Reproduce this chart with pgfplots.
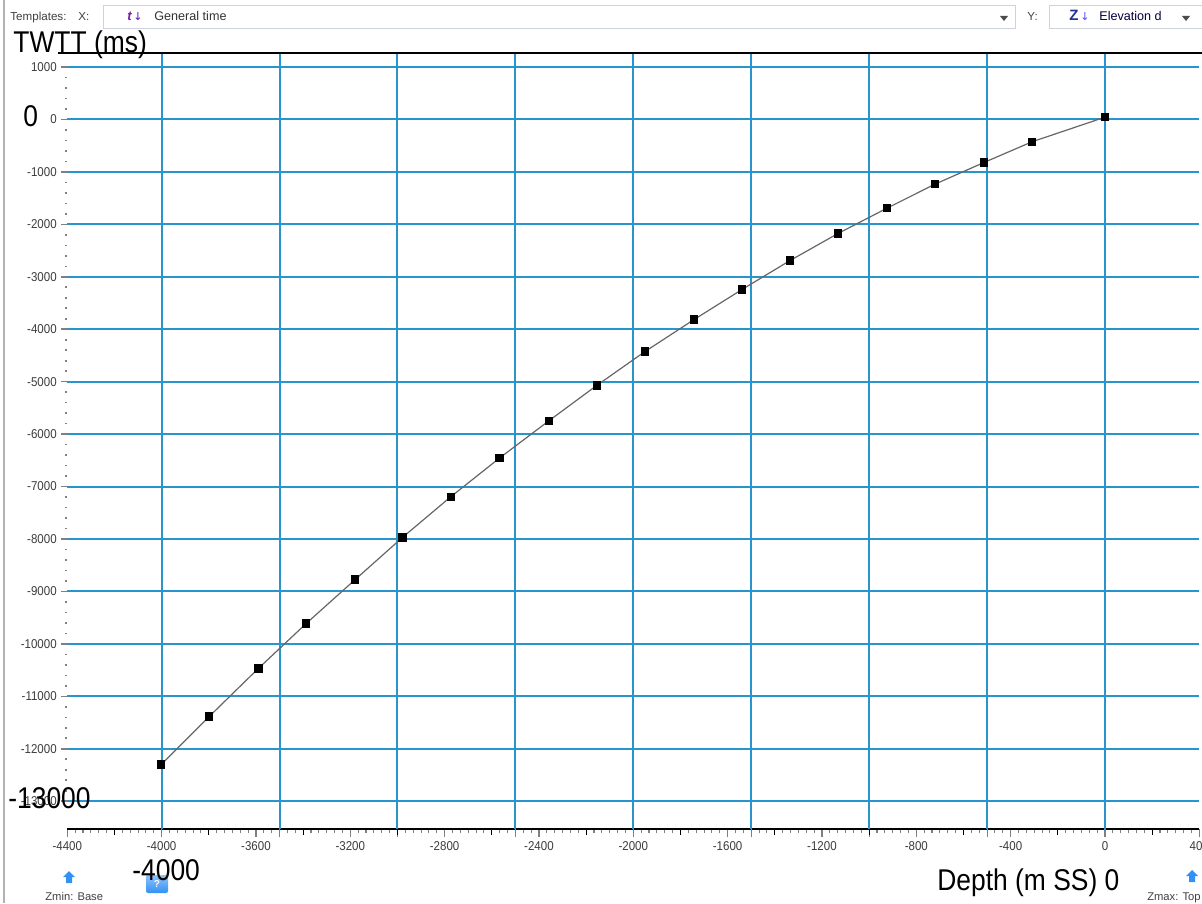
\documentclass[border=0pt]{standalone}
\usepackage{pgfplots}
\pgfplotsset{compat=1.18}
\usepackage{fontspec}
\setmainfont{Liberation Sans}
\newfontfamily\bigfont[FakeStretch=0.88]{Liberation Sans}
\newfontfamily\tickfamily[FakeStretch=0.9]{Liberation Sans}
\newfontfamily\symfont{DejaVu Sans}
\definecolor{gridblue}{RGB}{40,150,205}
\definecolor{ticktext}{RGB}{60,60,60}
\definecolor{iconblue}{RGB}{50,145,245}
\definecolor{boxborder}{RGB}{205,210,220}
\definecolor{tpurple}{RGB}{120,30,160}
\definecolor{zblue}{RGB}{30,50,150}
\newcommand{\tickfont}{\tickfamily\fontsize{6.4}{7}\selectfont}
\newcommand{\bigtext}{\bigfont\fontsize{15}{16}\selectfont}
\newcommand{\uifont}{\fontsize{5.8}{6.5}\selectfont}

\begin{document}
\begin{tikzpicture}
% screen canvas: 1 px = 0.5 pt, y downwards
\begin{scope}[x=0.5pt,y=-0.5pt]
  \fill[white] (0,0) rectangle (1202,903);
\end{scope}

\begin{axis}[
  at={(33.65pt,-414.5pt)}, anchor=south west,
  scale only axis, width=566pt, height=387.8pt,
  xmin=-4400, xmax=400, ymin=-13530, ymax=1260,
  scaled x ticks=false, scaled y ticks=false,
  axis x line*=bottom, axis y line*=left,
  x axis line style={draw=black, line width=0.8pt, -},
  y axis line style={draw=none},
  tick align=outside,
  xtick={-4400,-4000,...,400},
  xticklabels={-4400,-4000,-3600,-3200,-2800,-2400,-2000,-1600,-1200,-800,-400,0,400},
  minor x tick num=11,
  xtick style={line width=0.55pt, /pgfplots/major tick length=4pt, /pgfplots/minor tick length=2pt},
  ytick={1000,0,-1000,-2000,-3000,-4000,-5000,-6000,-7000,-8000,-9000,-10000,-11000,-12000,-13000},
  yticklabels={1000,0,-1000,-2000,-3000,-4000,-5000,-6000,-7000,-8000,-9000,-10000,-11000,-12000,-13000},
  minor y tick num=4,
  ytick style={line width=0.8pt, /pgfplots/major tick length=3.2pt, /pgfplots/minor tick length=0.9pt},
  ymajorgrids=true,
  extra x ticks={-4000,-3500,-3000,-2500,-2000,-1500,-1000,-500,0},
  extra x tick labels={},
  extra x tick style={grid=major, /pgfplots/major tick length=0pt},
  major grid style={draw=gridblue, line width=1pt},
  xticklabel style={font=\tickfont, text=ticktext, yshift=1.5pt},
  yticklabel style={font=\tickfont, text=ticktext, xshift=2.5pt},
  clip=false,
]
% medium ticks halfway between labelled ticks
\pgfplotsinvokeforeach{-4200,-3800,-3400,-3000,-2600,-2200,-1800,-1400,-1000,-600,-200,200}{
  \draw[black, line width=0.55pt] (axis cs:#1,-13530) -- ([yshift=-3pt]axis cs:#1,-13530);
}
% time-depth pairs
\addplot[black!60, line width=0.6pt, mark=square*, mark size=1.8pt,
         mark options={black, fill=black, solid}] coordinates {
  (0,44) (-309,-425) (-513,-820) (-721,-1234) (-924,-1691)
  (-1132,-2174) (-1335,-2689) (-1539,-3242) (-1742,-3814) (-1950,-4424)
  (-2155,-5072) (-2358,-5746) (-2568,-6459) (-2774,-7195) (-2979,-7971)
  (-3179,-8772) (-3387,-9611) (-3590,-10469) (-3798,-11384) (-4002,-12300)
};
\end{axis}

\begin{scope}[x=0.5pt,y=-0.5pt]
  % window border
  \draw[black!30, line width=1pt] (4,0) -- (4,903);
  % top frame line
  \draw[black, line width=1pt] (58,53) -- (1202,53);

  % template selector bar
  \node[anchor=base west, inner sep=0, font=\uifont, text=black!75] at (10,21) {Templates:};
  \node[anchor=base west, inner sep=0, font=\uifont, text=black!75] at (78,21) {X:};
  \draw[boxborder, fill=white, line width=0.5pt] (103,6) rectangle (1015,29);
  \node[anchor=base west, inner sep=0, font=\fontsize{6.5}{7}\selectfont\itshape\bfseries, text=tpurple] at (127,21) {t};
  \node[anchor=base west, inner sep=0, font=\symfont\fontsize{5.5}{6}\selectfont, text=tpurple!70!blue] at (133,21) {↓};
  \node[anchor=base west, inner sep=0, font=\fontsize{6.3}{7}\selectfont, text=black!80] at (154,21) {General time};
  \fill[black!70] (1000,16) -- (1008,16) -- (1004,21) -- cycle;
  \node[anchor=base west, inner sep=0, font=\uifont, text=black!75] at (1027,21) {Y:};
  \draw[boxborder, fill=white, line width=0.5pt] (1049,6) rectangle (1203,29);
  \node[anchor=base west, inner sep=0, font=\fontsize{7.5}{8}\selectfont\bfseries, text=zblue] at (1069,21) {Z};
  \node[anchor=base west, inner sep=0, font=\symfont\fontsize{5.5}{6}\selectfont, text=blue!70] at (1080,21) {↓};
  \node[anchor=base west, inner sep=0, font=\fontsize{6.3}{7}\selectfont, text=black!75!blue] at (1099,21) {Elevation d};
  \fill[black!70] (1182,16) -- (1190,16) -- (1186,21) -- cycle;

  % help icon below the axis
  \shade[top color=iconblue!55, bottom color=iconblue, rounded corners=1pt] (146,875) rectangle (168,893);
  \node[inner sep=0, font=\fontsize{5}{6}\selectfont\bfseries, text=white] at (157,884) {?};

  % large annotations
  \node[anchor=base west, inner sep=0, font=\bigtext] at (13,53) {TWTT (ms)};
  \node[anchor=base west, inner sep=0, font=\bigtext] at (23,127) {0};
  \node[anchor=base west, inner sep=0, font=\bigtext] at (8,808) {-13000};
  \node[anchor=base west, inner sep=0, font=\bigtext] at (132,880) {-4000};
  \node[anchor=base west, inner sep=0, font=\bigtext] at (937,890) {Depth (m SS) 0};

  % range markers
  \fill[iconblue] (69,871) -- (75,877) -- (72,877) -- (72,883) -- (66,883) -- (66,877) -- (63,877) -- cycle;
  \node[anchor=base west, inner sep=0, font=\fontsize{5.6}{6}\selectfont, text=black!75] at (45,900) {Zmin: Base};
  \fill[iconblue] (1192,870) -- (1198,876) -- (1195,876) -- (1195,882) -- (1189,882) -- (1189,876) -- (1186,876) -- cycle;
  \node[anchor=base east, inner sep=0, font=\fontsize{5.6}{6}\selectfont, text=black!75] at (1201,900) {Zmax: Top};

  % page extent
  \pgfresetboundingbox
  \useasboundingbox (0,0) rectangle (1202,903);
\end{scope}
\end{tikzpicture}
\end{document}
